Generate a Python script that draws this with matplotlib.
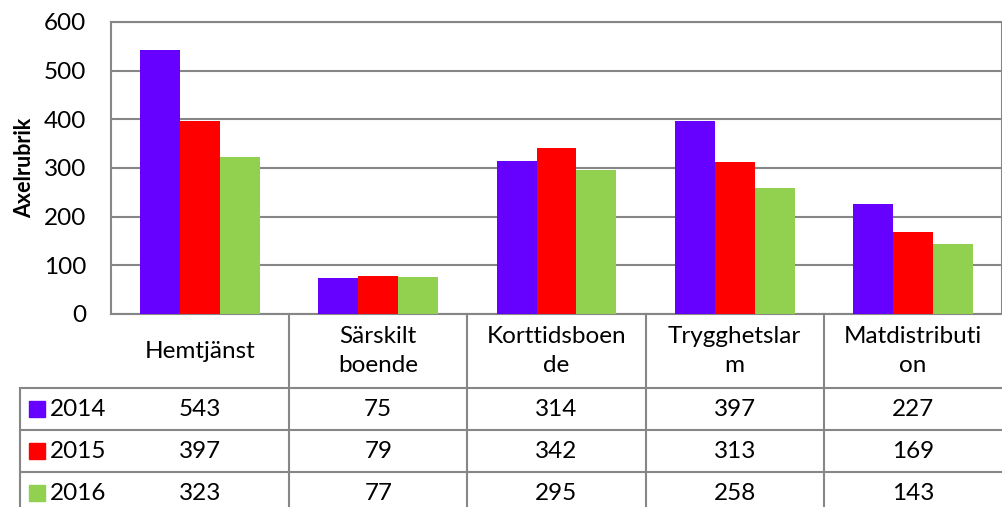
import numpy as np
import matplotlib
matplotlib.use('Agg')
import matplotlib.pyplot as plt

plt.rcParams['font.family'] = ['Lato', 'DejaVu Sans']

categories = ['Hemtjänst', 'Särskilt\nboende', 'Korttidsboen\nde', 'Trygghetslar\nm', 'Matdistributi\non']
years = ['2014', '2015', '2016']
v2014 = [543, 75, 314, 397, 227]
v2015 = [397, 79, 342, 313, 169]
v2016 = [323, 77, 295, 258, 143]
series = [v2014, v2015, v2016]
colors = ['#6600FF', '#FF0000', '#92D050']
grid_c = '#868686'
fs = 17.5

W, H = 1003, 507
fig = plt.figure(figsize=(W / 100, H / 100), dpi=100)
# plot area in pixels: left 111, top 22, right 1002, bottom 314
ax = fig.add_axes([111 / W, (H - 314) / H, (1002 - 111) / W, (314 - 22) / H])

x = np.arange(len(categories))
bw = 0.224
for i, vals in enumerate(series):
    ax.bar(x + (i - 1) * bw, vals, width=bw, color=colors[i], zorder=3)

ax.set_xlim(-0.5, len(categories) - 0.5)
ax.set_ylim(0, 600)
ax.set_yticks(range(0, 601, 100))
ax.yaxis.grid(True, color=grid_c, linewidth=1.5, zorder=0)
ax.set_xticks([])
ax.tick_params(axis='y', length=0, pad=18, labelsize=fs)
for s in ax.spines.values():
    s.set_color(grid_c)
    s.set_linewidth(1.5)
ax.set_ylabel('Axelrubrik', fontsize=15.5, fontweight='bold')
ax.yaxis.set_label_coords(-0.085, 0.5)

# data table below the plot
tr = ax.get_xaxis_transform()
ah = 314 - 22
head_h = 74 / ah
row_h = 42 / ah
left = -0.5 - 91 / 178.4
right = len(categories) - 0.5
line_kw = dict(color=grid_c, linewidth=1.5, transform=tr, clip_on=False)

y_head = -head_h
ax.plot([left, right], [y_head, y_head], **line_kw)
for r in range(1, 4):
    yy = y_head - r * row_h
    ax.plot([left, right], [yy, yy], **line_kw)
bottom = y_head - 3.2 * row_h
for b in np.arange(0.5, len(categories) - 0.5, 1.0):
    ax.plot([b, b], [0, bottom], **line_kw)
ax.plot([left, left], [y_head, bottom], **line_kw)

for j, cat in enumerate(categories):
    ax.text(j, -head_h / 2, cat, transform=tr, ha='center', va='center',
            fontsize=fs, linespacing=1.5, clip_on=False)

for r, (yr, vals) in enumerate(zip(years, series)):
    yc = y_head - (r + 0.5) * row_h
    ax.plot([left + 17 / 178.4], [yc], marker='s', markersize=11, color=colors[r],
            linestyle='none', transform=tr, clip_on=False)
    ax.text(left + 30 / 178.4, yc, yr, transform=tr, ha='left', va='center',
            fontsize=fs, clip_on=False)
    for j, v in enumerate(vals):
        ax.text(j, yc, str(v), transform=tr, ha='center', va='center',
                fontsize=fs, clip_on=False)

fig.savefig('out.png', dpi=100)
